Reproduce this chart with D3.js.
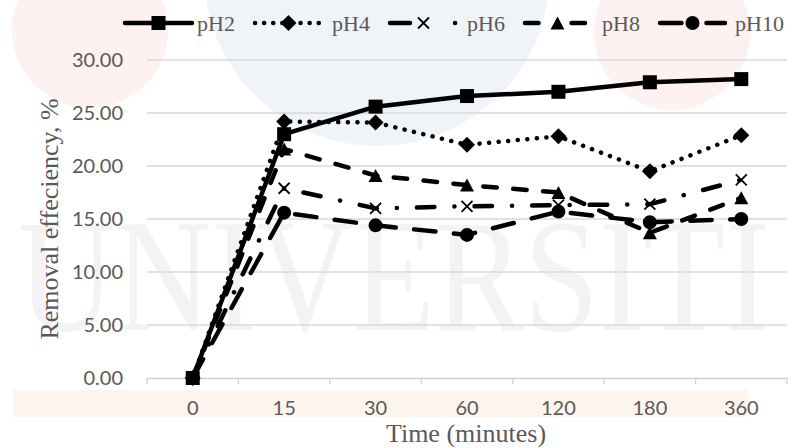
<!DOCTYPE html>
<html>
<head>
<meta charset="utf-8">
<script src="https://cdn.jsdelivr.net/npm/d3@7"></script>
<style>
  html, body { margin: 0; padding: 0; background: #ffffff; }
  svg { display: block; }
</style>
</head>
<body>
<svg id="chart" width="792" height="448"></svg>
<script>
// Removal efficiency over time at different pH
const categories = ["0", "15", "30", "60", "120", "180", "360"];
const seriesNames = ["pH2", "pH4", "pH6", "pH8", "pH10"];
const pH2  = [0, 23.0, 25.6, 26.6, 27.0, 27.9, 28.2];
const pH4  = [0, 24.2, 24.1, 22.0, 22.8, 19.5, 22.9];
const pH6  = [0, 17.9, 16.0, 16.2, 16.3, 16.4, 18.7];
const pH8  = [0, 21.6, 19.1, 18.2, 17.5, 13.7, 17.0];
const pH10 = [0, 15.6, 14.4, 13.5, 15.7, 14.7, 15.0];
const yTicks = [0, 5, 10, 15, 20, 25, 30];

const seriesValues = [pH2, pH4, pH6, pH8, pH10];
const lineStyles = [
  { dash: null,              legendDash: null,              marker: "square" },
  { dash: "0.1 9.5",         legendDash: "0.1 9",           marker: "diamond" },
  { dash: "17.5 20 0.1 20",  legendDash: "20 45 0.1 20",    marker: "cross" },
  { dash: "13.5 16.5",       legendDash: "13.5 33",         marker: "triangle" },
  { dash: "21.5 18.5",       legendDash: "21.5 25",         marker: "circle" }
];

const W = 792, H = 448;
const margin = { left: 147, right: 5, top: 60, bottom: 70 };
const svg = d3.select("#chart");

// faint background emblem and lettering
const bg = svg.append("g");
bg.append("circle").attr("cx", 377).attr("cy", -27).attr("r", 173).attr("fill", "#f0f4f9");
bg.append("circle").attr("cx", 90).attr("cy", 30).attr("r", 78).attr("fill", "#fdf1f1");
bg.append("circle").attr("cx", 672).attr("cy", 32).attr("r", 78).attr("fill", "#fdf1f1");
bg.append("rect").attr("x", 13).attr("y", 390).attr("width", 735).attr("height", 27).attr("fill", "#fdf5ee");
bg.append("text")
  .attr("transform", "translate(18,330) scale(1,1.2)")
  .attr("x", 0).attr("y", 0)
  .style("font-family", "'Liberation Serif', 'DejaVu Serif', serif")
  .style("font-size", "134px")
  .attr("fill", "#f3f3f3")
  .text("UNIVERSITI");

const x = d3.scaleBand()
  .domain(categories)
  .range([margin.left, W - margin.right])
  .paddingInner(0).paddingOuter(0);
const y = d3.scaleLinear().domain([0, 30]).range([H - margin.bottom, margin.top]);

// gridlines
svg.append("g")
  .selectAll("line")
  .data(yTicks.slice(1))
  .join("line")
  .attr("x1", margin.left).attr("x2", W - margin.right)
  .attr("y1", d => y(d)).attr("y2", d => y(d))
  .attr("stroke", "#d9d9d9").attr("stroke-width", 1.3);

// y tick labels
svg.append("g")
  .selectAll("text")
  .data(yTicks)
  .join("text")
  .attr("x", 123).attr("y", d => y(d))
  .attr("dy", "0.36em")
  .attr("text-anchor", "end")
  .style("font-family", "Lato, 'Open Sans', sans-serif")
  .style("font-size", "20px")
  .attr("fill", "#595959")
  .text(d => d3.format(".2f")(d));

// x axis
const xAxis = d3.axisBottom(x).tickSizeOuter(0).tickSize(0).tickPadding(23);
const gx = svg.append("g").attr("transform", `translate(0,${y(0)})`).call(xAxis);
gx.select(".domain").attr("stroke", "#d0d0d0").attr("stroke-width", 1.3);
gx.selectAll(".tick text")
  .style("font-family", "Lato, 'Open Sans', sans-serif")
  .style("font-size", "20px")
  .attr("fill", "#595959");
// tick marks between categories
const bounds = categories.map(c => x(c)).concat([x(categories[categories.length - 1]) + x.bandwidth()]);
svg.append("g").selectAll("line").data(bounds).join("line")
  .attr("x1", d => d).attr("x2", d => d)
  .attr("y1", y(0)).attr("y2", y(0) + 6)
  .attr("stroke", "#d0d0d0").attr("stroke-width", 1.3);

// axis titles
svg.append("text")
  .attr("x", (margin.left + W - margin.right) / 2 - 1).attr("y", 442)
  .attr("text-anchor", "middle")
  .style("font-family", "'Liberation Serif', 'DejaVu Serif', serif")
  .style("font-size", "26px")
  .attr("fill", "#595959")
  .text("Time (minutes)");
svg.append("text")
  .attr("transform", `translate(58,${(y(0) + y(30)) / 2}) rotate(-90)`)
  .attr("text-anchor", "middle")
  .style("font-family", "'Liberation Serif', 'DejaVu Serif', serif")
  .style("font-size", "26px")
  .attr("fill", "#595959")
  .text("Removal effeciency, %");

function drawMarker(g, kind, cx, cy) {
  if (kind === "cross") {
    const s = 5.5;
    g.append("path")
      .attr("d", `M${cx - s},${cy - s}L${cx + s},${cy + s}M${cx - s},${cy + s}L${cx + s},${cy - s}`)
      .attr("stroke", "#000").attr("stroke-width", 1.8).attr("fill", "none");
    return;
  }
  let d;
  if (kind === "square") {
    const s = 7;
    d = `M${cx - s},${cy - s}H${cx + s}V${cy + s}H${cx - s}Z`;
  } else if (kind === "diamond") {
    const s = 8;
    d = `M${cx},${cy - s}L${cx + s},${cy}L${cx},${cy + s}L${cx - s},${cy}Z`;
  } else if (kind === "triangle") {
    const w = 7, h = 6.5;
    d = `M${cx},${cy - h}L${cx + w},${cy + h}L${cx - w},${cy + h}Z`;
  } else {
    const r = 7;
    d = `M${cx - r},${cy}a${r},${r} 0 1,0 ${2 * r},0a${r},${r} 0 1,0 ${-2 * r},0Z`;
  }
  g.append("path").attr("d", d).attr("fill", "#000");
}

const line = d3.line()
  .x((d, i) => x(categories[i]) + x.bandwidth() / 2)
  .y(d => y(d));

const plot = svg.append("g");
seriesValues.forEach((vals, si) => {
  const st = lineStyles[si];
  const g = plot.append("g");
  g.append("path")
    .attr("d", line(vals))
    .attr("fill", "none")
    .attr("stroke", "#000")
    .attr("stroke-width", 4.5)
    .attr("stroke-linecap", "round")
    .attr("stroke-linejoin", "round")
    .attr("stroke-dasharray", st.dash);
  vals.forEach((v, i) => {
    drawMarker(g, st.marker, x(categories[i]) + x.bandwidth() / 2, y(v));
  });
});

// legend
const legendItems = [
  { x0: 125, x1: 192, tx: 197 },
  { x0: 255, x1: 322, tx: 332 },
  { x0: 390, x1: 457, tx: 467 },
  { x0: 525, x1: 590, tx: 602 },
  { x0: 660, x1: 725, tx: 735 }
];
const legend = svg.append("g");
seriesNames.forEach((name, si) => {
  const st = lineStyles[si];
  const it = legendItems[si];
  const ly = 23;
  legend.append("line")
    .attr("x1", it.x0).attr("x2", it.x1).attr("y1", ly).attr("y2", ly)
    .attr("stroke", "#000").attr("stroke-width", 4.5)
    .attr("stroke-linecap", "round")
    .attr("stroke-dasharray", st.legendDash);
  drawMarker(legend, st.marker, (it.x0 + it.x1) / 2, ly);
  legend.append("text")
    .attr("x", it.tx).attr("y", ly).attr("dy", "0.35em")
    .style("font-family", "'Liberation Serif', 'DejaVu Serif', serif")
    .style("font-size", "22px")
    .attr("fill", "#595959")
    .text(name);
});
</script>
</body>
</html>
